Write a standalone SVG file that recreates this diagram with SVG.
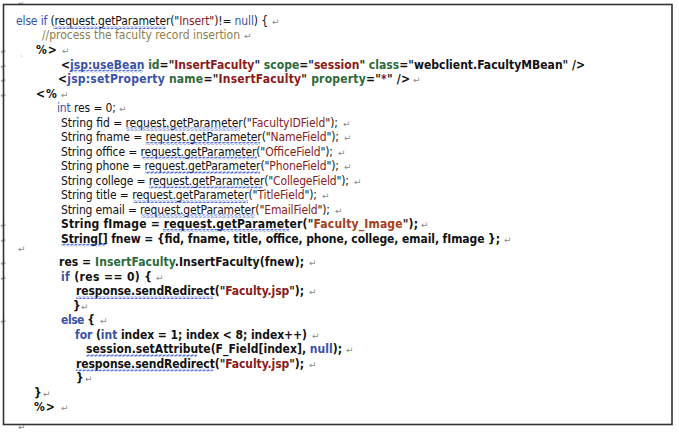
<svg xmlns="http://www.w3.org/2000/svg" width="679" height="433" viewBox="0 0 679 433">
<style>
text{font-family:"DejaVu Sans Condensed","Liberation Sans",sans-serif;font-size:12px;fill:#111}
.b{font-weight:bold}
.ls{letter-spacing:1px}
.kw{fill:#3a52a6}
.s{fill:#8b1a1a}
.cm{fill:#8c7f4e}
.at{fill:#2b6b3c}
.fi{fill:#a33d1c}
.pm{font-family:"DejaVu Sans",sans-serif;font-size:9px;fill:#8a8a8a}
.mm{font-family:"DejaVu Sans",sans-serif;font-size:7px;fill:#8a8a8a}
.sq{fill:url(#wave)}
</style>
<defs>
<pattern id="wave" patternUnits="userSpaceOnUse" x="0" y="0" width="4" height="3">
<path d="M0 2.5 L1 0.5 L3 2.5 L4 0.5" fill="none" stroke="#3050d0" stroke-width="0.8"/>
</pattern>
</defs>
<rect width="679" height="433" fill="#fff"/>
<g id="margin-marks">
<text class="mm" x="0.5" y="53.5">↵</text>
<text class="mm" x="0.5" y="68.5">↵</text>
<text class="mm" x="0.5" y="83">↵</text>
<text class="mm" x="0.5" y="97.5">↵</text>
<text class="mm" x="0.5" y="228">↵</text>
<text class="mm" x="0.5" y="242.5">↵</text>
<text class="mm" x="0.5" y="266">↵</text>
<text class="mm" x="0.5" y="280.5">↵</text>
<text class="mm" x="0.5" y="324">↵</text>
<text class="mm" x="18" y="6">↵</text>
<text class="pm" x="18" y="430">↵</text>
<text class="mm" x="20" y="61">`</text>
</g>
<rect id="frame" x="3.5" y="4.5" width="668.5" height="420" fill="none" stroke="#333" stroke-width="1.6"/>
<g id="code">
<text x="16" y="25" textLength="252" lengthAdjust="spacing"><tspan class="kw">else if</tspan> (request.getParameter("<tspan class="s">Insert</tspan>")!= <tspan class="kw">null</tspan>) {</text>
<text class="cm" x="42" y="39" textLength="198" lengthAdjust="spacing">//process the faculty record insertion</text>
<text class="b ls" x="36" y="53.5">%&gt;</text>
<text class="b" x="61" y="68.5" textLength="524" lengthAdjust="spacing">&lt;<tspan class="kw">jsp:useBean</tspan> <tspan class="at">id</tspan>="<tspan class="s">InsertFaculty</tspan>" <tspan class="at">scope</tspan>="<tspan class="s">session</tspan>" <tspan class="at">class</tspan>="webclient.FacultyMBean" /&gt;</text>
<text class="b" x="58" y="83" textLength="352" lengthAdjust="spacing">&lt;<tspan class="kw">jsp:setProperty</tspan> <tspan class="at">name</tspan>="<tspan class="s">InsertFaculty</tspan>" <tspan class="at">property</tspan>="<tspan class="s">*</tspan>" /&gt;</text>
<text class="b ls" x="36" y="97.5">&lt;%</text>
<text x="57" y="112" textLength="59" lengthAdjust="spacing"><tspan class="kw">int</tspan> res = 0;</text>
<text x="61" y="126.5" textLength="277" lengthAdjust="spacing">String fid = request.getParameter("<tspan class="s">FacultyIDField</tspan>");</text>
<text x="61" y="141" textLength="278" lengthAdjust="spacing">String fname = request.getParameter("<tspan class="s">NameField</tspan>");</text>
<text x="61" y="155.5" textLength="272" lengthAdjust="spacing">String office = request.getParameter("<tspan class="s">OfficeField</tspan>");</text>
<text x="61" y="170" textLength="278" lengthAdjust="spacing">String phone = request.getParameter("<tspan class="s">PhoneField</tspan>");</text>
<text x="61" y="184.5" textLength="288" lengthAdjust="spacing">String college = request.getParameter("<tspan class="s">CollegeField</tspan>");</text>
<text x="61" y="199" textLength="256" lengthAdjust="spacing">String title = request.getParameter("<tspan class="s">TitleField</tspan>");</text>
<text x="61" y="213.5" textLength="269" lengthAdjust="spacing">String email = request.getParameter("<tspan class="s">EmailField</tspan>");</text>
<text class="b" x="61" y="228" textLength="357" lengthAdjust="spacing">String fImage = request.getParameter("<tspan class="fi">Faculty_Image</tspan>");</text>
<text class="b" x="61" y="242.5" textLength="439" lengthAdjust="spacing">String[] fnew = {fid, fname, title, office, phone, college, email, fImage };</text>
<text class="b" x="59" y="266" textLength="245" lengthAdjust="spacing">res = <tspan class="at">InsertFaculty</tspan>.InsertFaculty(fnew);</text>
<text class="b" x="61" y="280.5" textLength="91" lengthAdjust="spacing"><tspan class="kw">if</tspan> (res == 0) {</text>
<text class="b" x="76" y="295" textLength="228" lengthAdjust="spacing">response.sendRedirect("<tspan class="s">Faculty.jsp</tspan>");</text>
<text class="b" x="73" y="309.5">}</text>
<text class="b" x="61" y="324" textLength="34" lengthAdjust="spacing"><tspan class="kw">else</tspan> {</text>
<text class="b" x="75" y="338.5" textLength="232" lengthAdjust="spacing"><tspan class="kw">for</tspan> (<tspan class="kw">int</tspan> index = 1; index &lt; 8; index++)</text>
<text class="b" x="86" y="353" textLength="256" lengthAdjust="spacing">session.setAttribute(F_Field[index], <tspan class="kw">null</tspan>);</text>
<text class="b" x="76" y="367.5" textLength="228" lengthAdjust="spacing">response.sendRedirect("<tspan class="s">Faculty.jsp</tspan>");</text>
<text class="b" x="76" y="382">}</text>
<text class="b" x="34" y="396.5">}</text>
<text class="b ls" x="34" y="411">%&gt;</text>
</g>
<g id="paragraph-marks">
<text class="pm" x="272" y="25">↵</text>
<text class="pm" x="244" y="39">↵</text>
<text class="pm" x="62" y="53.5">↵</text>
<text class="pm" x="413" y="83">↵</text>
<text class="pm" x="61" y="97.5">↵</text>
<text class="pm" x="119" y="112">↵</text>
<text class="pm" x="343" y="126.5">↵</text>
<text class="pm" x="344" y="141">↵</text>
<text class="pm" x="338" y="155.5">↵</text>
<text class="pm" x="344" y="170">↵</text>
<text class="pm" x="354" y="184.5">↵</text>
<text class="pm" x="322" y="199">↵</text>
<text class="pm" x="335" y="213.5">↵</text>
<text class="pm" x="421" y="228">↵</text>
<text class="pm" x="504" y="242.5">↵</text>
<text class="pm" x="18" y="252">↵</text>
<text class="pm" x="309" y="266">↵</text>
<text class="pm" x="156" y="280.5">↵</text>
<text class="pm" x="309" y="295">↵</text>
<text class="pm" x="81" y="309.5">↵</text>
<text class="pm" x="100" y="324">↵</text>
<text class="pm" x="312" y="338.5">↵</text>
<text class="pm" x="346" y="353">↵</text>
<text class="pm" x="309" y="367.5">↵</text>
<text class="pm" x="85" y="382">↵</text>
<text class="pm" x="43" y="396.5">↵</text>
<text class="pm" x="61" y="411">↵</text>
</g>
<g id="spell-squiggles">
<rect class="sq" x="53" y="26" width="113" height="3"/>
<rect class="sq" x="72" y="69.5" width="71" height="3"/>
<rect class="sq" x="126" y="127.5" width="114" height="3"/>
<rect class="sq" x="145" y="142" width="115" height="3"/>
<rect class="sq" x="142" y="156.5" width="115" height="3"/>
<rect class="sq" x="145" y="171" width="115" height="3"/>
<rect class="sq" x="149" y="185.5" width="114" height="3"/>
<rect class="sq" x="133" y="200" width="115" height="3"/>
<rect class="sq" x="141" y="214.5" width="114" height="3"/>
<rect class="sq" x="163" y="229" width="126" height="3"/>
<rect class="sq" x="61" y="243.5" width="44" height="3"/>
<rect class="sq" x="76" y="296" width="137" height="3"/>
<rect class="sq" x="86" y="354" width="111" height="3"/>
<rect class="sq" x="76" y="368.5" width="137" height="3"/>
</g>
</svg>
